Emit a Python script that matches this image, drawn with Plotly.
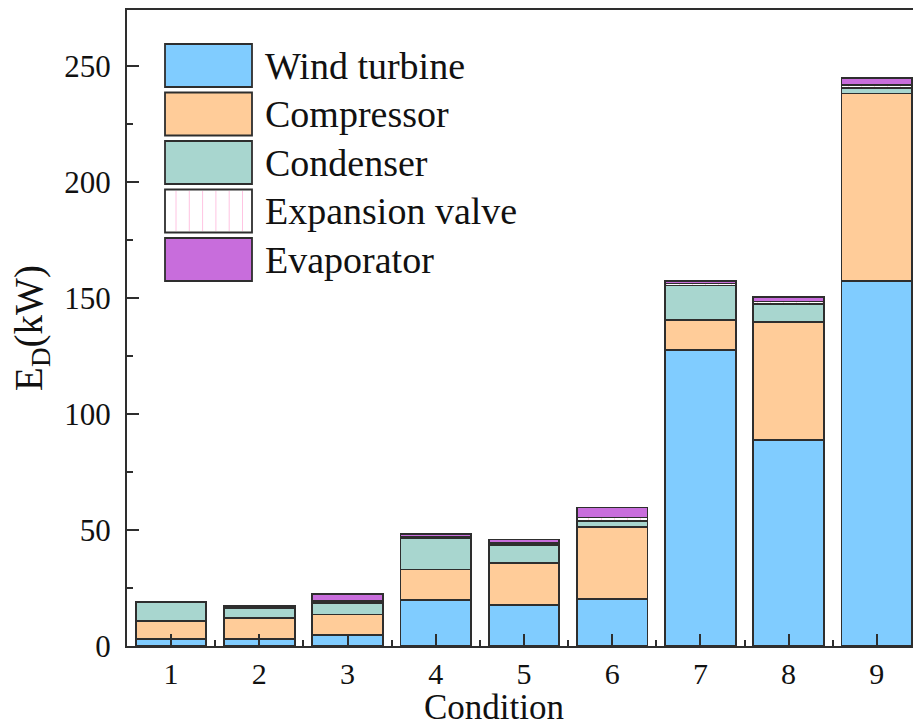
import plotly.graph_objects as go

# Exergy destruction by component for each operating condition (kW)
conditions = [1, 2, 3, 4, 5, 6, 7, 8, 9]
wind_turbine = [2.9, 2.9, 4.7, 19.8, 17.6, 20.2, 127.4, 88.7, 157.3]
compressor = [7.9, 9.0, 8.9, 13.2, 18.3, 30.9, 13.1, 50.9, 80.7]
condenser = [8.1, 4.5, 4.9, 13.4, 7.6, 2.7, 14.8, 7.6, 2.3]
expansion_valve = [0.1, 0.4, 0.8, 0.8, 0.9, 1.6, 0.9, 1.2, 1.5]
evaporator = [0.2, 0.5, 3.1, 0.9, 1.5, 4.3, 0.9, 2.0, 2.8]

series_names = ["Wind turbine", "Compressor", "Condenser", "Expansion valve", "Evaporator"]
series_values = [wind_turbine, compressor, condenser, expansion_valve, evaporator]
series_colors = ["#80CCFF", "#FFCC99", "#A8D6CF", "#FFFFFF", "#C86DDC"]

FONT = "Liberation Serif, Times New Roman, serif"
EDGE = "#2E2E2E"

fig = go.Figure()
for name, vals, col in zip(series_names, series_values, series_colors):
    pattern = None
    if name == "Expansion valve":
        pattern = dict(shape="|", fgcolor="#FF9FCF", bgcolor="#FFFFFF",
                       size=13, solidity=0.08)
    fig.add_trace(go.Bar(
        x=conditions, y=vals, name=name, width=0.8,
        marker=dict(color=col, line=dict(color=EDGE, width=1.8), pattern=pattern),
        showlegend=False,
    ))

# Plot-area geometry in pixels, used to place the legend block and axis title
W, H = 913, 728
ML, MR, MT, MB = 127, 0, 10, 82
PW, PH = W - ML - MR, H - MT - MB


def px_x(x):
    return (x - ML) / PW


def px_y(y):
    return (H - MB - y) / PH


shapes = []
annotations = []
box_left, box_right = 165, 252
box_top0, box_h, pitch = 44, 43, 48.5
for i, (name, col) in enumerate(zip(series_names, series_colors)):
    top = box_top0 + i * pitch
    bot = top + box_h
    shapes.append(dict(type="rect", xref="paper", yref="paper",
                       x0=px_x(box_left), x1=px_x(box_right),
                       y0=px_y(bot), y1=px_y(top),
                       fillcolor=col, line=dict(color=EDGE, width=1.8),
                       layer="above"))
    if name == "Expansion valve":
        xs = box_left + 11
        while xs < box_right - 4:
            shapes.append(dict(type="line", xref="paper", yref="paper",
                               x0=px_x(xs), x1=px_x(xs),
                               y0=px_y(bot - 1.5), y1=px_y(top + 1.5),
                               line=dict(color="#FFC4E2", width=1), layer="above"))
            xs += 13.3
    annotations.append(dict(xref="paper", yref="paper",
                            x=px_x(263), y=px_y((top + bot) / 2),
                            xanchor="left", yanchor="middle", showarrow=False,
                            text=name, font=dict(family=FONT, size=38, color="#111111")))

# x-axis title
annotations.append(dict(xref="paper", yref="paper",
                        x=px_x(494), y=px_y(707.5),
                        xanchor="center", yanchor="middle", showarrow=False,
                        borderpad=0,
                        text="Condition", font=dict(family=FONT, size=35, color="#111111")))

fig.update_layout(
    width=W, height=H,
    margin=dict(l=ML, r=MR, t=MT, b=MB),
    barmode="stack",
    plot_bgcolor="white", paper_bgcolor="white",
    font=dict(family=FONT, color="#111111"),
    shapes=shapes,
    annotations=annotations,
)

fig.update_xaxes(
    range=[0.5, 9.41],
    tickvals=conditions,
    ticktext=[str(c) for c in conditions],
    ticks="inside", ticklen=12, tickwidth=2, tickcolor=EDGE,
    minor=dict(tickvals=[c + 0.5 for c in conditions[:-1]], ticks="inside",
               ticklen=6, tickwidth=2, tickcolor=EDGE),
    showline=True, linewidth=2, linecolor=EDGE, mirror=True,
    showgrid=False, zeroline=False,
    tickfont=dict(family=FONT, size=30),
    ticklabelstandoff=0,
)

fig.update_yaxes(
    range=[0, 274],
    tickvals=[0, 50, 100, 150, 200, 250],
    ticks="inside", ticklen=12, tickwidth=2, tickcolor=EDGE,
    minor=dict(tickvals=[25, 75, 125, 175, 225], ticks="inside",
               ticklen=6, tickwidth=2, tickcolor=EDGE),
    showline=True, linewidth=2, linecolor=EDGE, mirror=False,
    showgrid=False, zeroline=False,
    tickfont=dict(family=FONT, size=31),
    ticklabelstandoff=8,
    title=dict(text="E<sub>D</sub>(kW)", font=dict(family=FONT, size=39), standoff=10),
)

fig.write_html("out.html")
